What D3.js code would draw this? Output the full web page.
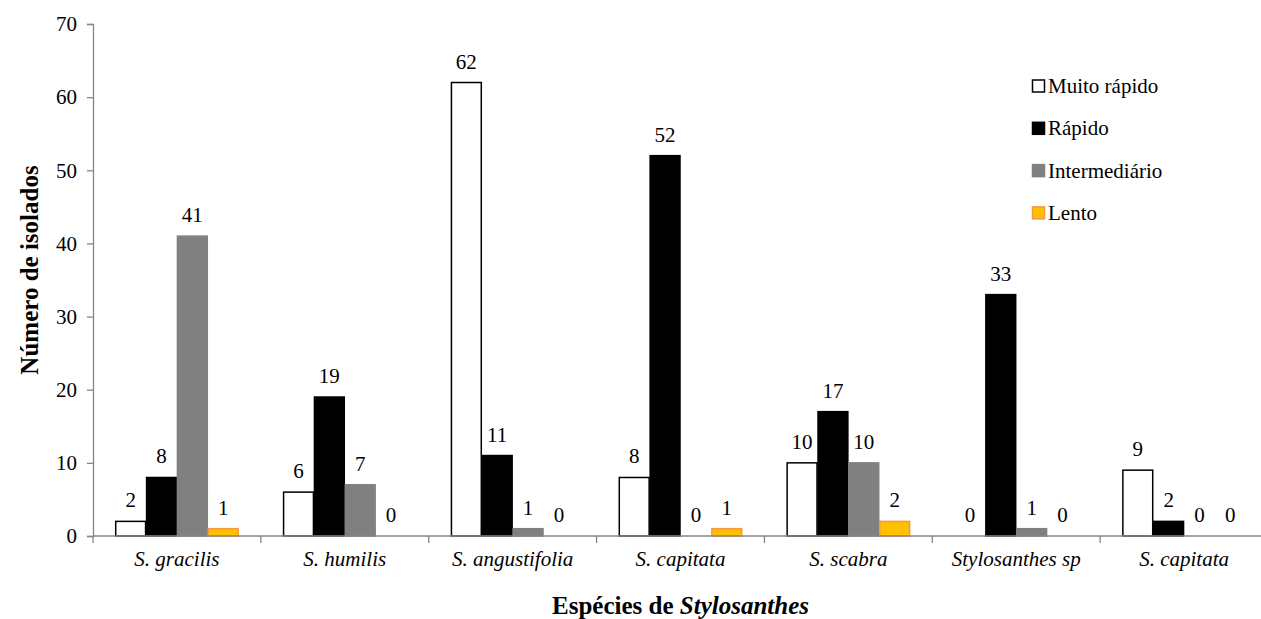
<!DOCTYPE html>
<html>
<head>
<meta charset="utf-8">
<script src="https://cdn.jsdelivr.net/npm/d3@7"></script>
</head>
<body style="margin:0">
<div id="chart"></div>
<script>
const species = ["S. gracilis", "S. humilis", "S. angustifolia", "S. capitata", "S. scabra", "Stylosanthes sp", "S. capitata "];
const seriesNames = ["Muito rápido", "Rápido", "Intermediário", "Lento"];
const muitoRapido = [2, 6, 62, 8, 10, 0, 9];
const rapido = [8, 19, 11, 52, 17, 33, 2];
const intermediario = [41, 7, 1, 0, 10, 1, 0];
const lento = [1, 0, 0, 1, 2, 0, 0];
const yTicks = [0, 10, 20, 30, 40, 50, 60, 70];

const fills = ["#ffffff", "#000000", "#808080", "#ffc000"];
const strokes = ["#000000", "#000000", "#808080", "#f79646"];
const FONT = "Liberation Serif";

const W = 1261, H = 619;
const margin = {top: 24, right: -7, bottom: 83, left: 93};
const width = W - margin.left - margin.right,
      height = H - margin.top - margin.bottom;

const svg = d3.select("#chart").append("svg")
    .attr("width", W)
    .attr("height", H)
  .append("g")
    .attr("transform", `translate(${margin.left},${margin.top})`);

const values = [muitoRapido, rapido, intermediario, lento];
const rows = species.map((s, i) => ({
  key: s,
  vals: seriesNames.map((n, j) => ({series: n, idx: j, value: values[j][i]}))
}));

//X scales
const x0 = d3.scaleBand()
  .domain(species)
  .range([0, width])
  .paddingInner(0)
  .paddingOuter(0);

const x1 = d3.scaleBand()
  .domain(seriesNames)
  .range([0, x0.bandwidth()])
  .paddingInner(0)
  .paddingOuter(0.72);

//Y scale
const y = d3.scaleLinear()
  .domain([0, 70])
  .range([height, 0]);

//Y axis
const yAxis = svg.append("g")
  .call(d3.axisLeft(y).tickValues(yTicks).tickSize(6).tickPadding(10));
yAxis.select(".domain").attr("stroke", "#868686").attr("stroke-width", 1.3);
yAxis.selectAll(".tick line").attr("stroke", "#868686").attr("stroke-width", 1.3);
yAxis.selectAll("text")
  .attr("fill", "#000")
  .attr("font-family", FONT)
  .attr("font-size", 21);

//Bars
const groups = svg.selectAll(".grp")
  .data(rows)
  .enter()
  .append("g")
    .attr("transform", d => `translate(${x0(d.key)},0)`);

groups.selectAll("rect")
  .data(d => d.vals.filter(v => v.value > 0))
  .enter()
  .append("rect")
    .attr("x", d => x1(d.series) + 0.5)
    .attr("y", d => y(d.value))
    .attr("width", x1.bandwidth() - 1)
    .attr("height", d => height - y(d.value))
    .attr("fill", d => fills[d.idx])
    .attr("stroke", d => strokes[d.idx])
    .attr("stroke-width", 1.5);

//Value labels
groups.selectAll(".lbl")
  .data(d => d.vals)
  .enter()
  .append("text")
    .attr("x", d => x1(d.series) + x1.bandwidth() / 2)
    .attr("y", d => y(d.value) - 14)
    .attr("text-anchor", "middle")
    .attr("font-family", FONT)
    .attr("font-size", 21)
    .text(d => d.value);

//X axis
const xAxis = svg.append("g")
  .attr("transform", `translate(0,${height})`)
  .call(d3.axisBottom(x0).tickSize(0).tickPadding(15));
xAxis.select(".domain").remove();
xAxis.selectAll("text")
  .attr("fill", "#000")
  .attr("font-family", FONT)
  .attr("font-size", 21)
  .attr("font-style", "italic");

svg.append("line")
  .attr("x1", 0).attr("x2", width)
  .attr("y1", height).attr("y2", height)
  .attr("stroke", "#868686")
  .attr("stroke-width", 1.3);

svg.selectAll(".xtick")
  .data(species)
  .enter()
  .append("line")
    .attr("x1", d => x0(d)).attr("x2", d => x0(d))
    .attr("y1", height).attr("y2", height + 7)
    .attr("stroke", "#868686")
    .attr("stroke-width", 1.3);

//Axis titles
svg.append("text")
  .attr("transform", "rotate(-90)")
  .attr("x", -height / 2 + 10)
  .attr("y", -margin.left + 38)
  .attr("text-anchor", "middle")
  .attr("font-family", FONT)
  .attr("font-size", 25)
  .attr("font-weight", "bold")
  .text("Número de isolados");

const xt = svg.append("text")
  .attr("x", x0.range()[0] + 3.5 * x0.step())
  .attr("y", height + 78)
  .attr("text-anchor", "middle")
  .attr("font-family", FONT)
  .attr("font-size", 25)
  .attr("font-weight", "bold");
xt.append("tspan").text("Espécies de ");
xt.append("tspan").attr("font-style", "italic").text("Stylosanthes");

//Legend
const legend = svg.append("g")
  .attr("transform", `translate(${1032 - margin.left},${86 - margin.top})`);

const li = legend.selectAll(".li")
  .data(seriesNames)
  .enter()
  .append("g")
    .attr("transform", (d, i) => `translate(0,${i * 42.3})`);

li.append("rect")
  .attr("x", 0.5).attr("y", -6)
  .attr("width", 12).attr("height", 12)
  .attr("fill", (d, i) => fills[i])
  .attr("stroke", (d, i) => strokes[i])
  .attr("stroke-width", 1.5);

li.append("text")
  .attr("x", 16)
  .attr("y", 7)
  .attr("font-family", FONT)
  .attr("font-size", 21)
  .text(d => d);
</script>
</body>
</html>
